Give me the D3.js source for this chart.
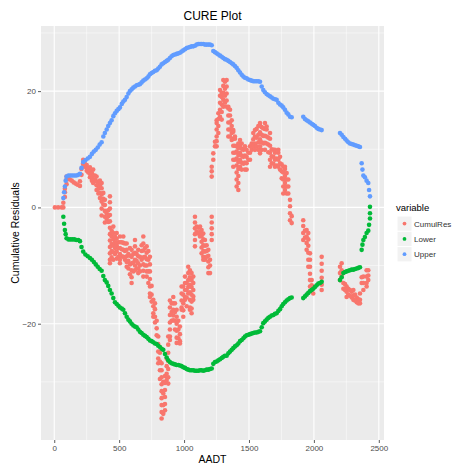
<!DOCTYPE html>
<html>
<head>
<meta charset="utf-8">
<script src="https://cdn.jsdelivr.net/npm/d3@7"></script>
<style>
  html, body { margin: 0; padding: 0; background: #fff; }
  svg text { font-family: "Liberation Sans", Arial, sans-serif; }
</style>
</head>
<body>
<svg id="chart" width="456" height="468"></svg>
<script>
// Cumulative residuals, grouped by AADT value (several sites share one AADT)
const resAADT = [
  5, 30, 57, 70, 82, 95, 108, 120, 135, 150, 165, 180, 198, 210, 223, 236, 250, 262, 275, 290,
  300, 313, 326, 340, 352, 365, 378, 390, 404, 416, 429, 442, 455, 468, 481, 494, 506, 520, 532, 545,
  558, 571, 583, 596, 609, 622, 635, 647, 660, 673, 686, 699, 712, 725, 737, 750, 763, 776, 789, 801,
  814, 827, 840, 853, 866, 878, 891, 904, 917, 930, 943, 956, 968, 981, 994, 1007, 1020, 1032, 1045, 1058,
  1071, 1084, 1097, 1110, 1123, 1135, 1148, 1161, 1174, 1187, 1200, 1213, 1225, 1238, 1251, 1264, 1277, 1290, 1302, 1315,
  1328, 1341, 1354, 1367, 1379, 1392, 1405, 1418, 1431, 1444, 1457, 1469, 1482, 1495, 1508, 1521, 1533, 1546, 1559, 1572,
  1585, 1598, 1610, 1623, 1636, 1649, 1662, 1675, 1688, 1700, 1713, 1726, 1739, 1752, 1764, 1777, 1790, 1803, 1816, 1829,
  1918, 1931, 1944, 1957, 1970, 1983, 1995, 2060, 2201, 2214, 2227, 2240, 2252, 2265, 2278, 2291, 2304, 2317, 2330, 2342,
  2355, 2368, 2381, 2406, 2419
];
const resValues = [
  [0], [0], [0], [0, 0.8], [1.8, 2.6, 3.2], [4.0, 4.8, 5.3], [5.0], [4.8], [4.6], [4.3], [4.1], [3.9], [3.7, 4.5], [5.6, 6.6], [7.4, 8.2, 7.6], [7.0, 7.5], [6.8, 7.3, 6.3], [6.0, 6.6], [6.4, 5.8, 6.9, 5.2], [5.9, 5.0, 4.6],
  [6.5, 5.5, 4.7, 4.2], [5.5, 4.8], [5.3, 4.5, 3.8, 3.0], [4.0, 3.2, 2.4], [4.6, 3.8, 2.5, 1.6], [4.2, 3.3, 2.2, 1.0, -0.2, -1.4], [2.5, 1.5, 0.5], [1.3, 0.4, -0.6, -1.6, -2.6], [-1.0, -2.0], [-0.5, -1.5, -2.5],
  [1.9, 0.9, -0.2, -1.3, -2.4, -3.5, -4.6, -5.7, -6.8, -7.9, -9.0, -9.6], [-4.0, -5.0, -6.3, -7.5, -8.6], [-3.3, -4.4, -5.5, -6.6, -7.7, -9.0], [-5.0, -6.0, -7.0, -8.0], [-4.4, -5.4, -6.5, -7.6, -8.8], [-6.0, -7.0, -8.5], [-5.0, -6.0, -7.0, -8.0, -9.0, -9.6], [-6.0, -7.2, -8.4], [-5.0, -6.1, -7.3, -8.5], [-6.2, -7.5, -9.0],
  [-6.2, -7.3, -8.4, -9.4, -10.2], [-8.0, -9.2, -10.5], [-7.0, -8.3, -9.8, -11.5], [-7.3, -8.5, -9.6, -10.8, -12.0, -13.0], [-8.0, -9.5, -11.0], [-5.6, -6.7, -7.8, -9.0, -10.0, -10.8], [-8.0, -9.2, -10.5], [-7.3, -8.4, -9.6, -10.5, -11.3], [-8.5, -10.0, -11.0], [-6.5, -7.5, -9.0],
  [-5.0, -6.2, -7.4, -8.6, -9.8, -10.9, -11.9], [-7.0, -8.5, -10.0], [-6.7, -7.8, -8.9, -10.0, -11.0, -11.9], [-7.5, -9.0, -11.0, -13.0], [-8.5, -9.8, -11.0, -12.3, -13.6, -14.8, -15.4], [-13.5, -15.0, -16.2], [-15.9, -17.0, -18.2, -18.8], [-16.5, -17.5, -18.8, -19.8], [-19.5, -20.8, -22.0], [-22.2, -23.5, -24.8, -26.0, -26.8],
  [-25.0, -26.5, -28.0, -29.5], [-26.8, -28.0, -29.2, -30.4, -31.6, -32.8, -34.0, -35.2, -36.3], [-30.0, -32.0, -34.0, -35.5], [-29.0, -30.2, -31.4, -32.6, -33.8, -34.9], [-26.0, -27.3, -28.6, -29.7], [-22.2, -23.6, -25.0, -26.4, -27.8, -29.2, -30.3], [-16.0, -17.2, -18.5, -19.8, -21.0, -22.2, -22.8], [-16.5, -18.0, -19.5], [-15.4, -16.5, -17.6, -18.6, -19.4], [-16.5, -18.0, -19.5, -21.0],
  [-17.6, -18.8, -20.0, -21.2, -22.4, -23.3], [-19.5, -21.0, -22.5], [-20.5, -21.8, -23.0, -23.4], [-13.6, -14.8, -16.0, -17.2, -17.6], [-13.6, -15.0, -16.5, -17.7, -18.8], [-11.9, -13.0, -14.2, -15.4, -15.9], [-13.0, -14.2, -15.5, -17.0], [-10.2, -11.3, -12.5, -13.7, -14.8], [-10.8, -12.0, -13.3, -14.6, -15.9, -17.2, -17.6], [-11.3, -12.5, -13.7, -15.0, -16.2, -17.4, -18.2],
  [-11.9, -13.0, -14.2, -15.3, -15.9], [-1.6, -2.6, -3.6, -4.6, -5.6, -6.7], [-3.3, -4.2], [-3.5, -4.5], [-3.3, -4.2, -5.0], [-3.9, -4.9, -5.9, -6.9, -7.9], [-4.5, -5.5, -6.5, -7.5, -8.5, -9.0], [-5.6, -6.6, -7.6, -8.6, -9.0], [-6.5, -7.5, -8.5], [-7.3, -8.3, -9.3, -10.3, -11.3],
  [-9.0, -10.0, -11.3], [-1.6, -2.6, -3.6, -4.6, -5.6, 5.3, 6.2, 7.0], [8.2, 9.3], [10.5, 11.3], [10.5, 11.4, 12.2, 13.4, 14.5, 15.0], [12.8, 14.0, 15.2, 16.2], [15.6, 16.8, 18.0, 19.2, 20.2], [15.1, 16.4, 17.7, 19.0, 19.7], [17.3, 18.5, 19.7, 20.9, 21.9], [18.0, 19.2, 20.4, 21.6],
  [17.3, 18.4, 19.6, 20.8, 21.9], [12.2, 13.4, 14.6, 15.8, 17.0, 17.3], [12.2, 13.4, 14.6, 15.8, 16.8], [11.6, 12.8, 14.0, 15.0], [7.0, 8.2, 9.4, 10.6, 11.8, 13.0, 13.3], [8.2, 9.4, 10.6, 11.8, 12.2], [3.6, 4.8, 6.0, 7.2, 8.4, 9.6, 10.5], [3.0, 4.2, 5.4, 6.6, 7.8, 9.0, 10.2, 11.0], [7.0, 8.2, 9.4, 10.6, 11.6], [6.5, 7.7, 8.9, 10.1, 11.0],
  [7.5, 8.7, 9.9], [6.5, 7.7, 8.9, 10.1, 10.5], [6.5, 7.6, 8.7, 9.9], [8.2, 9.4], [8.2, 9.4, 10.5], [9.9, 11.0], [10.5, 11.7, 12.8], [9.9, 11.0, 12.2, 13.3], [10.5, 12.0, 13.5], [9.9, 11.2, 12.5, 14.0],
  [9.3, 10.5, 11.7, 12.9, 14.1, 14.5], [9.9, 11.2, 12.5, 13.8], [11.0, 12.3, 13.6], [9.9, 11.1, 12.3, 13.5, 14.5], [11.0, 12.2, 13.4, 13.9], [9.5, 10.8, 12.0], [7.0, 8.2, 9.4, 10.6, 11.8, 12.8], [7.6, 8.8, 10.0], [7.5, 8.7, 9.9], [7.0, 8.2, 9.4, 9.9],
  [7.2, 8.4], [7.0, 8.2, 9.4, 9.9], [6.5, 7.6, 8.7], [5.0, 6.2, 7.4], [2.4, 3.6, 4.8, 6.0, 7.0], [3.0, 4.2, 5.4, 6.6, 7.0], [2.4, 3.6, 4.8, 5.9], [2.4, 3.6, 4.8], [-2.2, -1.0, 0.2, 1.3], [-2.7, -1.5],
  [-2.2, -3.2, -4.4, -5.6], [-4.0, -5.2], [-3.9, -5.0, -6.1, -7.3], [-4.4, -5.5, -6.6, -7.8, -9.0, -10.2], [-7.9, -9.0, -10.2, -11.4, -12.5, -13.6], [-12.5, -13.4, -14.2], [-13.6, -14.8], [-8.5, -9.7, -10.9, -12.1, -13.3, -14.2], [-10.2, -11.3, -12.5], [-9.6, -10.8, -11.9],
  [-13.0, -14.0], [-13.2, -14.2], [-13.6, -14.5, -15.4], [-14.0, -15.0], [-14.2, -15.2], [-14.5, -15.5], [-14.2, -15.2, -15.9], [-15.0, -16.0], [-15.5, -16.3], [-15.8, -16.5],
  [-14.8, -15.9, -16.5], [-12.0, -13.0], [-11.9, -13.0, -14.2], [-10.8, -11.9, -13.0, -13.6], [-10.8, -11.7, -12.5]
];

// Two-sigma bounds at each AADT value
const boundAADT = [
  70, 76, 82, 88, 95, 110, 125, 140, 155, 170, 185, 198, 210, 223, 240, 258, 275, 290, 305, 320,
  335, 350, 365, 378, 390, 404, 416, 429, 442, 455, 468, 481, 494, 506, 520, 532, 545, 558, 571, 583,
  596, 609, 622, 635, 647, 660, 673, 686, 699, 712, 725, 737, 750, 763, 776, 789, 801, 814, 827, 840,
  853, 866, 878, 891, 904, 917, 930, 943, 956, 968, 981, 994, 1007, 1020, 1032, 1045, 1058, 1071, 1084, 1097,
  1110, 1123, 1135, 1148, 1161, 1174, 1187, 1200, 1213, 1225, 1238, 1251, 1264, 1277, 1290, 1302, 1315, 1328, 1341, 1354,
  1367, 1379, 1392, 1405, 1418, 1431, 1444, 1457, 1469, 1482, 1495, 1508, 1521, 1533, 1546, 1559, 1572, 1585, 1598, 1610,
  1623, 1636, 1649, 1662, 1675, 1688, 1700, 1713, 1726, 1739, 1752, 1764, 1777, 1790, 1803, 1816, 1829, 1918, 1931, 1944,
  1957, 1970, 1983, 1995, 2008, 2021, 2034, 2047, 2060, 2201, 2214, 2227, 2240, 2252, 2265, 2278, 2291, 2304, 2317, 2330,
  2342, 2355, 2368, 2374, 2381, 2393, 2406, 2419, 2425, 2432
];
const upperBound = [
  1.6, 2.6, 3.6, 4.6, 5.3, 5.5, 5.5, 5.5, 5.5, 5.5, 5.6, 5.8, 6.8, 7.8, 8.1, 8.4, 8.7, 9.2, 9.6, 9.9,
  10.3, 10.8, 11.2, 12.2, 12.8, 13.4, 14.0, 14.5, 15.0, 15.7, 16.2, 16.6, 16.9, 17.2, 17.8, 18.2, 18.5, 19.0, 19.6, 20.0,
  20.3, 20.6, 20.8, 21.0, 21.1, 21.2, 21.5, 21.8, 22.0, 22.2, 22.5, 22.9, 23.1, 23.3, 23.5, 23.6, 23.9, 24.2, 24.6, 24.8,
  25.0, 25.2, 25.4, 25.7, 26.0, 26.2, 26.3, 26.4, 26.5, 26.6, 26.8, 27.0, 27.2, 27.4, 27.5, 27.6, 27.7, 27.7, 27.8, 28.0,
  28.1, 28.1, 28.1, 28.1, 28.0, 28.0, 28.0, 28.0, 27.9, 26.9, 26.7, 26.5, 26.3, 26.1, 25.9, 25.7, 25.5, 25.4, 25.2, 25.0,
  24.8, 24.6, 24.3, 24.0, 23.6, 23.2, 22.8, 22.5, 22.3, 22.2, 22.0, 21.9, 21.8, 21.7, 21.7, 21.7, 21.7, 21.6, 20.8, 20.2,
  19.8, 19.5, 19.3, 19.1, 18.9, 18.7, 18.6, 18.5, 18.0, 17.7, 17.5, 17.2, 16.8, 16.3, 16.0, 15.6, 15.5, 15.6, 15.2, 15.0,
  14.8, 14.6, 14.4, 14.2, 14.0, 13.7, 13.5, 13.4, 13.3, 12.8, 12.5, 12.1, 11.8, 11.5, 11.2, 11.0, 10.9, 10.8, 10.7, 10.6,
  10.5, 10.4, 7.6, 6.5, 5.5, 5.2, 4.6, 4.2, 3.0, 1.9
];
const lowerBound = [
  -1.6, -2.8, -3.9, -4.6, -5.3, -5.5, -5.5, -5.5, -5.5, -5.6, -5.6, -5.8, -6.8, -7.6, -8.1, -8.4, -8.7, -9.0, -9.4, -9.8,
  -10.2, -10.6, -10.9, -11.8, -12.5, -12.9, -13.5, -14.2, -14.8, -15.6, -16.3, -16.6, -16.9, -17.2, -17.4, -17.6, -18.2, -18.8, -19.3, -19.6,
  -20.0, -20.3, -20.5, -20.6, -21.0, -21.4, -21.6, -21.9, -22.1, -22.3, -22.6, -22.9, -23.0, -23.2, -23.4, -23.5, -23.8, -24.0, -24.3, -24.5,
  -25.2, -25.8, -26.3, -26.6, -26.8, -26.9, -27.0, -27.1, -27.1, -27.2, -27.3, -27.5, -27.6, -27.8, -27.9, -28.0, -28.0, -28.0, -28.1, -28.1,
  -28.1, -28.0, -28.0, -28.1, -28.0, -27.9, -27.9, -27.8, -27.7, -26.9, -26.6, -26.5, -26.3, -26.1, -25.9, -25.7, -25.5, -25.5, -25.1, -24.8,
  -24.5, -24.2, -23.9, -23.7, -23.4, -23.0, -22.8, -22.5, -22.2, -22.0, -21.9, -21.8, -21.7, -21.6, -21.5, -21.5, -21.4, -21.3, -20.6, -19.9,
  -19.6, -19.3, -19.0, -18.8, -18.6, -18.5, -18.3, -18.2, -17.8, -17.5, -17.0, -16.6, -16.3, -16.0, -15.8, -15.6, -15.5, -15.6, -15.3, -15.0,
  -14.7, -14.4, -14.2, -14.0, -13.7, -13.4, -13.1, -13.0, -12.8, -12.5, -12.0, -11.3, -11.1, -11.0, -10.9, -10.8, -10.7, -10.7, -10.6, -10.5,
  -10.4, -10.3, -7.3, -6.4, -5.6, -5.1, -4.4, -4.0, -3.0, -1.9
];
// Final points of the lower bound series closing at zero
const lowerTailAADT = [2432, 2432];
const lowerTail = [-1.0, 0.1];

const xTicks = [0, 500, 1000, 1500, 2000, 2500];
const xMinor = [250, 750, 1250, 1750, 2250];
const yTicks = [-20, 0, 20];
const yMinor = [-30, -10, 10, 30];

const seriesNames = ["CumulRes", "Lower", "Upper"];
const seriesColors = ["#F8766D", "#00BA38", "#619CFF"];

const svg = d3.select("#chart");
const panel = { left: 41, right: 384, top: 26, bottom: 440 };

const x = d3.scaleLinear().domain([-102, 2540]).range([panel.left, panel.right]);
const y = d3.scaleLinear().domain([-40, 31.2]).range([panel.bottom, panel.top]);
const color = d3.scaleOrdinal().domain(seriesNames).range(seriesColors);

// panel background and grid
svg.append("rect")
  .attr("x", panel.left).attr("y", panel.top)
  .attr("width", panel.right - panel.left).attr("height", panel.bottom - panel.top)
  .attr("fill", "#EBEBEB");

const grid = svg.append("g");
grid.selectAll(".xminor").data(xMinor).join("line")
  .attr("x1", d => x(d)).attr("x2", d => x(d))
  .attr("y1", panel.top).attr("y2", panel.bottom)
  .attr("stroke", "#fff").attr("stroke-width", 0.5);
grid.selectAll(".yminor").data(yMinor).join("line")
  .attr("y1", d => y(d)).attr("y2", d => y(d))
  .attr("x1", panel.left).attr("x2", panel.right)
  .attr("stroke", "#fff").attr("stroke-width", 0.5);
grid.selectAll(".xmajor").data(xTicks).join("line")
  .attr("x1", d => x(d)).attr("x2", d => x(d))
  .attr("y1", panel.top).attr("y2", panel.bottom)
  .attr("stroke", "#fff").attr("stroke-width", 1.1);
grid.selectAll(".ymajor").data(yTicks).join("line")
  .attr("y1", d => y(d)).attr("y2", d => y(d))
  .attr("x1", panel.left).attr("x2", panel.right)
  .attr("stroke", "#fff").attr("stroke-width", 1.1);

// axes
const xAxis = svg.append("g")
  .attr("transform", `translate(0,${panel.bottom})`)
  .call(d3.axisBottom(x).tickValues(xTicks).tickSize(3).tickPadding(2).tickFormat(d3.format("d")));
const yAxis = svg.append("g")
  .attr("transform", `translate(${panel.left},0)`)
  .call(d3.axisLeft(y).tickValues(yTicks).tickSize(3).tickPadding(2).tickFormat(d3.format("d")));
[xAxis, yAxis].forEach(g => {
  g.select(".domain").remove();
  g.selectAll(".tick line").attr("stroke", "#333333").attr("stroke-width", 0.8);
  g.selectAll(".tick text").attr("fill", "#4D4D4D").attr("font-size", 8)
    .style("font-family", "'Liberation Sans', Arial, sans-serif");
});

// points: cumulative residuals, then lower and upper bounds
const resPoints = resAADT.flatMap((a, i) => resValues[i].map(v => ({ a, v })));
const lowerPoints = boundAADT.map((a, i) => ({ a, v: lowerBound[i] }))
  .concat(lowerTailAADT.map((a, i) => ({ a, v: lowerTail[i] })));
const upperPoints = boundAADT.map((a, i) => ({ a, v: upperBound[i] }));

const layers = [
  { name: "CumulRes", pts: resPoints },
  { name: "Lower", pts: lowerPoints },
  { name: "Upper", pts: upperPoints }
];
layers.forEach(layer => {
  svg.append("g").selectAll("circle").data(layer.pts).join("circle")
    .attr("cx", d => x(d.a)).attr("cy", d => y(d.v)).attr("r", 2.3)
    .attr("fill", color(layer.name));
});

// titles
svg.append("text").attr("x", (panel.left + panel.right) / 2).attr("y", 20)
  .attr("text-anchor", "middle").attr("font-size", 12).attr("fill", "#000").text("CURE Plot");
svg.append("text").attr("x", (panel.left + panel.right) / 2).attr("y", 463)
  .attr("text-anchor", "middle").attr("font-size", 10.5).attr("fill", "#000").text("AADT");
svg.append("text")
  .attr("transform", `translate(19,${(panel.top + panel.bottom) / 2}) rotate(-90)`)
  .attr("text-anchor", "middle").attr("font-size", 10.5).attr("fill", "#000").text("Cumulative Residuals");

// legend
const legend = svg.append("g").attr("transform", "translate(396,0)");
legend.append("text").attr("x", 0).attr("y", 211).attr("font-size", 9.5).attr("fill", "#000").text("variable");
const keys = legend.selectAll(".key").data(seriesNames).join("g")
  .attr("transform", (d, i) => `translate(0,${216 + i * 15.3})`);
keys.append("rect").attr("x", 1).attr("y", 0).attr("width", 15).attr("height", 15.3)
  .attr("fill", "#F2F2F2").attr("stroke", "#fff").attr("stroke-width", 1);
keys.append("circle").attr("cx", 8.5).attr("cy", 7.6).attr("r", 1.9).attr("fill", d => color(d));
keys.append("text").attr("x", 18).attr("y", 10.6).attr("font-size", 8).attr("fill", "#333").text(d => d);
</script>
</body>
</html>
